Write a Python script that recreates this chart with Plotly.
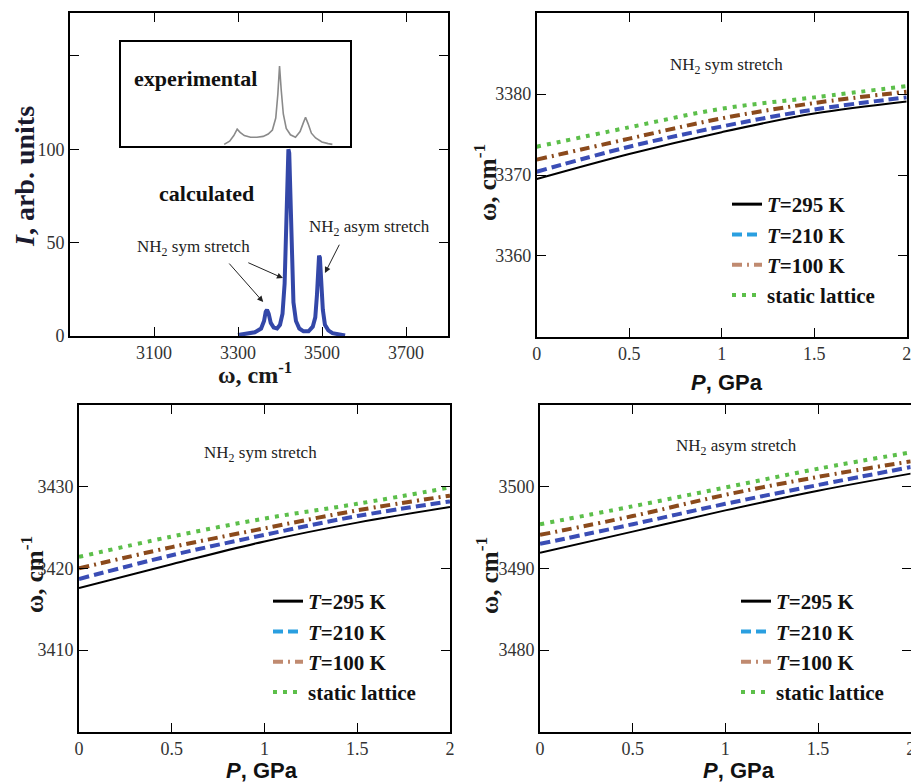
import plotly.graph_objects as go

# ---------------- data ----------------
# calculated spectrum (top-left)
calc_w = [3300, 3320, 3340, 3355, 3362, 3366, 3369, 3373, 3378, 3385,
          3393, 3400, 3406, 3411, 3415, 3418, 3420, 3422, 3425, 3428,
          3432, 3438, 3446, 3456, 3468, 3478, 3484, 3488, 3491, 3493,
          3495, 3498, 3502, 3507, 3515, 3525, 3540, 3555]
calc_I = [0.5, 1, 2, 4, 8, 13, 14, 12, 7, 4.5,
          4, 6, 12, 28, 60, 96, 100, 98, 73, 40,
          18, 8, 4, 2.5, 2.5, 5, 10, 22, 38, 43,
          42, 30, 14, 6, 3, 1.5, 0.7, 0.3]
# experimental spectrum (inset)
exp_w = [3267, 3280, 3290, 3298, 3305, 3315, 3330, 3345, 3360, 3372,
         3382, 3390, 3395, 3399, 3403, 3408, 3415, 3425, 3437, 3448,
         3455, 3461, 3467, 3475, 3485, 3500, 3515, 3525]
exp_I = [2, 6, 13, 21, 17, 13, 11, 11, 12, 15,
         20, 35, 65, 100, 70, 40, 22, 14, 11, 18,
         28, 36, 28, 16, 10, 5, 3, 2]

P = [0, 0.5, 1, 1.5, 2]
series_names = ["<i>T</i>=295 K", "<i>T</i>=210 K", "<i>T</i>=100 K", "static lattice"]

sym_top = [[3369.5, 3372.6, 3375.3, 3377.6, 3379.1],
           [3370.4, 3373.5, 3376.0, 3378.1, 3379.6],
           [3371.9, 3374.5, 3377.0, 3378.9, 3380.3],
           [3373.5, 3375.9, 3378.2, 3379.6, 3381.0]]
sym_bot = [[3417.6, 3420.5, 3423.3, 3425.6, 3427.5],
           [3418.7, 3421.6, 3424.1, 3426.4, 3428.2],
           [3420.0, 3422.6, 3424.9, 3427.1, 3428.9],
           [3421.4, 3423.9, 3426.1, 3427.9, 3429.9]]
asym_bot = [[3491.9, 3494.5, 3497.1, 3499.5, 3501.6],
            [3493.0, 3495.4, 3497.9, 3500.2, 3502.4],
            [3494.1, 3496.4, 3499.0, 3501.2, 3503.1],
            [3495.4, 3497.6, 3499.9, 3502.2, 3504.2]]

# ---------------- styles ----------------
SERIF = "Liberation Serif"
SANS = "Liberation Sans"
line_colors = ["#000000", "#3a4db5", "#8b4a1c", "#5cbf4a"]
legend_colors = ["#000000", "#2a9fe0", "#c08a70", "#5cbf4a"]
dashes = ["solid", "10px,5px", "10px,5px,2px,5px", "4px,6px"]
widths = [2, 4, 4, 4]

W, H = 919, 783
OFF = 8  # page body margin offset


def fx(a):
    return (a - OFF) / W


def fy(a):
    return 1 - (a - OFF) / H


def px(a, b):
    return [fx(a), fx(b)]


def py(top, bottom):
    return [fy(bottom), fy(top)]


fig = go.Figure()

# spectrum
fig.add_trace(go.Scatter(x=calc_w, y=calc_I, mode="lines", xaxis="x", yaxis="y",
                         line=dict(color="#3347a8", width=4), showlegend=False))
fig.add_trace(go.Scatter(x=exp_w, y=exp_I, mode="lines", xaxis="x5", yaxis="y5",
                         line=dict(color="#8a8a8a", width=1.6), showlegend=False))

panels = [("x2", "y2", sym_top, "legend"),
          ("x3", "y3", sym_bot, "legend2"),
          ("x4", "y4", asym_bot, "legend3")]
for xa, ya, data, lg in panels:
    for i in range(4):
        fig.add_trace(go.Scatter(x=P, y=data[i], mode="lines", xaxis=xa, yaxis=ya,
                                 line=dict(color=line_colors[i], width=widths[i],
                                           dash=dashes[i], shape="spline"),
                                 showlegend=False))
    for i in range(4):
        fig.add_trace(go.Scatter(x=[None], y=[None], mode="lines", xaxis=xa, yaxis=ya,
                                 name="<b>" + series_names[i] + "</b>", legend=lg,
                                 line=dict(color=legend_colors[i], width=widths[i] + (1 if i == 0 else 0),
                                           dash=dashes[i])))

tickfont = dict(family=SERIF, size=18, color="#333333")
common = dict(showline=True, linecolor="black", linewidth=1.6, mirror="ticks",
              ticks="inside", ticklen=9, tickwidth=1.4, tickcolor="black",
              showgrid=False, zeroline=False, tickfont=tickfont, automargin=False)
inset_ax = dict(showline=True, mirror=True, linecolor="black", linewidth=1.5,
                showticklabels=False, ticks="", showgrid=False, zeroline=False, automargin=False)

layout = dict(
    width=W, height=H, margin=dict(l=0, r=0, t=0, b=0, autoexpand=False),
    paper_bgcolor="white", plot_bgcolor="white",
    xaxis=dict(domain=px(70, 448), range=[2900, 3800], anchor="y",
               tickvals=[3100, 3300, 3500, 3700], **common),
    yaxis=dict(domain=py(13, 336), range=[0, 173], anchor="x",
               tickvals=[0, 50, 100, 150], ticktext=["0", "50", "100", ""], **common),
    xaxis2=dict(domain=px(536.7, 906.7), range=[0, 2], anchor="y2",
                tickvals=[0, 0.5, 1, 1.5, 2], **common),
    yaxis2=dict(domain=py(13.3, 336.7), range=[3350, 3390], anchor="x2",
                tickvals=[3360, 3370, 3380], **common),
    xaxis3=dict(domain=px(79, 450), range=[0, 2], anchor="y3",
                tickvals=[0, 0.5, 1, 1.5, 2], **common),
    yaxis3=dict(domain=py(405, 731.7), range=[3400, 3440], anchor="x3",
                tickvals=[3410, 3420, 3430], **common),
    xaxis4=dict(domain=px(540, 910.7), range=[0, 2], anchor="y4",
                tickvals=[0, 0.5, 1, 1.5, 2], **common),
    yaxis4=dict(domain=py(405, 731.7), range=[3470, 3510], anchor="x4",
                tickvals=[3480, 3490, 3500], **common),
    xaxis5=dict(domain=px(121, 350), range=[3021, 3567], anchor="y5", **inset_ax),
    yaxis5=dict(domain=py(42, 146), range=[0, 130], anchor="x5", **inset_ax),
)

legend_font = dict(family=SERIF, size=21, color="#111111")
for name, lx, ly in [("legend", 727, 184), ("legend2", 268, 581), ("legend3", 736, 581)]:
    layout[name] = dict(x=fx(lx), y=fy(ly), xanchor="left", yanchor="top",
                        bgcolor="rgba(0,0,0,0)", borderwidth=0, font=legend_font,
                        tracegroupgap=0)

fig.update_layout(**layout)

ann_font = dict(family=SERIF, size=17, color="#222222")
bold_font = dict(family=SERIF, size=22, color="#111111")
wtitle_font = dict(family=SERIF, size=25, color="#1a1a1a")
Ptitle_font = dict(family=SANS, size=22, color="#111111")
w_title = "<b>ω, cm<sup>-1</sup></b>"
P_title = "<b><i>P</i>, GPa</b>"

annotations = [
    dict(x=3198, y=138, xref="x", yref="y", text="<b>experimental</b>", showarrow=False, font=bold_font),
    dict(x=3225, y=76.5, xref="x", yref="y", text="<b>calculated</b>", showarrow=False, font=bold_font),
    dict(x=3195, y=47, xref="x", yref="y", text="NH<sub>2</sub> sym stretch", showarrow=False, font=ann_font),
    dict(x=3612, y=57.8, xref="x", yref="y", text="NH<sub>2</sub> asym stretch", showarrow=False, font=ann_font),
    dict(x=3360, y=18.2, ax=3276, ay=39.6, xref="x", yref="y", axref="x", ayref="y", text="",
         showarrow=True, arrowhead=2, arrowsize=1.2, arrowwidth=1, arrowcolor="#222222"),
    dict(x=3407, y=31, ax=3321, ay=39.6, xref="x", yref="y", axref="x", ayref="y", text="",
         showarrow=True, arrowhead=2, arrowsize=1.2, arrowwidth=1, arrowcolor="#222222"),
    dict(x=3507, y=33.7, ax=3543, ay=49.7, xref="x", yref="y", axref="x", ayref="y", text="",
         showarrow=True, arrowhead=2, arrowsize=1.2, arrowwidth=1, arrowcolor="#222222"),
    dict(x=1.027, y=3383.5, xref="x2", yref="y2", text="NH<sub>2</sub> sym stretch", showarrow=False, font=ann_font),
    dict(x=0.976, y=3434.0, xref="x3", yref="y3", text="NH<sub>2</sub> sym stretch", showarrow=False, font=ann_font),
    dict(x=1.061, y=3504.8, xref="x4", yref="y4", text="NH<sub>2</sub> asym stretch", showarrow=False, font=ann_font),
    # axis titles
    dict(x=fx(255), y=fy(373), xref="paper", yref="paper", text=w_title, showarrow=False,
         font=dict(family=SERIF, size=24, color="#1a1a1a")),
    dict(x=fx(25), y=fy(177), xref="paper", yref="paper", text="<b><i>I</i>, arb. units</b>",
         textangle=-90, showarrow=False, font=dict(family=SERIF, size=28, color="#1a1a2e")),
    dict(x=fx(727), y=fy(382), xref="paper", yref="paper", text=P_title, showarrow=False, font=Ptitle_font),
    dict(x=fx(485), y=fy(183), xref="paper", yref="paper", text=w_title, textangle=-90,
         showarrow=False, font=wtitle_font),
    dict(x=fx(262), y=fy(770), xref="paper", yref="paper", text=P_title, showarrow=False, font=Ptitle_font),
    dict(x=fx(32), y=fy(575), xref="paper", yref="paper", text=w_title, textangle=-90,
         showarrow=False, font=wtitle_font),
    dict(x=fx(739), y=fy(770), xref="paper", yref="paper", text=P_title, showarrow=False, font=Ptitle_font),
    dict(x=fx(487), y=fy(575), xref="paper", yref="paper", text=w_title, textangle=-90,
         showarrow=False, font=wtitle_font),
]
for a in annotations:
    a["xanchor"] = "center"
    a["yanchor"] = "middle"
fig.update_layout(annotations=annotations)

fig.write_html("out.html")
